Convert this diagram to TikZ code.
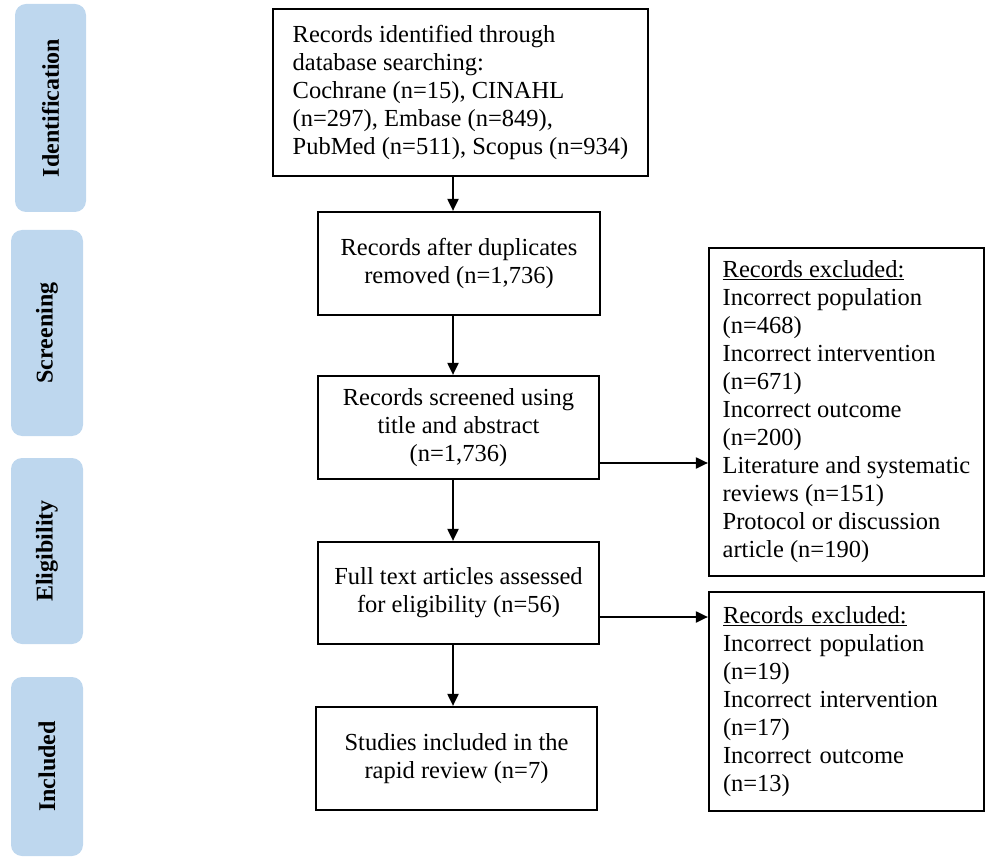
\documentclass[tikz,border=0pt]{standalone}
\usepackage{fontspec}
\setmainfont{Liberation Serif}
\usetikzlibrary{arrows.meta}
\definecolor{phaseblue}{RGB}{190,215,238}
\begin{document}
\begin{tikzpicture}[x=1pt,y=-1pt,
		box/.style={draw,line width=2.2pt,align=center,inner sep=0pt,font=\fontsize{24.5}{28}\selectfont},
		exclbox/.style={box,align=left,minimum width=275pt},
		phase/.style={fill=phaseblue,rounded corners=11pt,rotate=90,inner sep=0pt,font=\fontsize{24}{28}\selectfont\bfseries},
		arrow/.style={-{Triangle[length=12pt,width=11pt]},line width=2pt}]
		\useasboundingbox (0,0) rectangle (985,858);
		% phase labels on the left
		\node[phase,minimum width=208pt,minimum height=71pt] (ident) at (50.5,108) {Identification};
		\node[phase,minimum width=206pt,minimum height=72pt] (screen) at (47,333) {Screening};
		\node[phase,minimum width=186pt,minimum height=72pt] (elig) at (47,551) {Eligibility};
		\node[phase,minimum width=179pt,minimum height=72pt] (incl) at (47,766.5) {Included};
		% main column
		\node[box,align=left,minimum width=375pt,minimum height=167pt] (found) at (460.5,92.5)
			{Records identified through\\database searching:\\Cochrane (n=15), CINAHL\\(n=297), Embase (n=849),\\PubMed (n=511), Scopus (n=934)};
		\node[box,minimum width=282pt,minimum height=103pt] (dedup) at (459,263.5)
			{Records after duplicates\\removed (n=1,736)};
		\node[box,minimum width=281pt,minimum height=103pt] (screened) at (458.5,427.5)
			{Records screened using\\title and abstract\\(n=1,736)};
		\node[box,minimum width=281pt,minimum height=102pt] (fulltext) at (458.5,593)
			{Full text articles assessed\\for eligibility (n=56)};
		\node[box,minimum width=281pt,minimum height=103pt] (studies) at (456.5,758.5)
			{Studies included in the\\rapid review (n=7)};
		% exclusion boxes
		\node[exclbox,minimum height=328pt] (excl1) at (846.5,412)
			{\underline{Records excluded:}\\Incorrect population\\(n=468)\\Incorrect intervention\\(n=671)\\Incorrect outcome\\(n=200)\\Literature and systematic\\reviews (n=151)\\Protocol or discussion\\article (n=190)};
		\node[exclbox,text width=247pt,minimum height=219pt] (excl2) at (846.5,701.5)
			{\underline{Records excluded:}\\Incorrect population\\(n=19)\\Incorrect intervention\\(n=17)\\Incorrect outcome\\(n=13)};
		% connectors
		\coordinate (col) at (453,0);
		\coordinate (out1) at (0,463);
		\coordinate (out2) at (0,617);
		\draw[arrow] (found.south -| col) -- (dedup.north -| col);
		\draw[arrow] (dedup.south -| col) -- (screened.north -| col);
		\draw[arrow] (screened.south -| col) -- (fulltext.north -| col);
		\draw[arrow] (fulltext.south -| col) -- (studies.north -| col);
		\draw[arrow] (screened.east |- out1) -- (excl1.west |- out1);
		\draw[arrow] (fulltext.east |- out2) -- (excl2.west |- out2);
\end{tikzpicture}
\end{document}
